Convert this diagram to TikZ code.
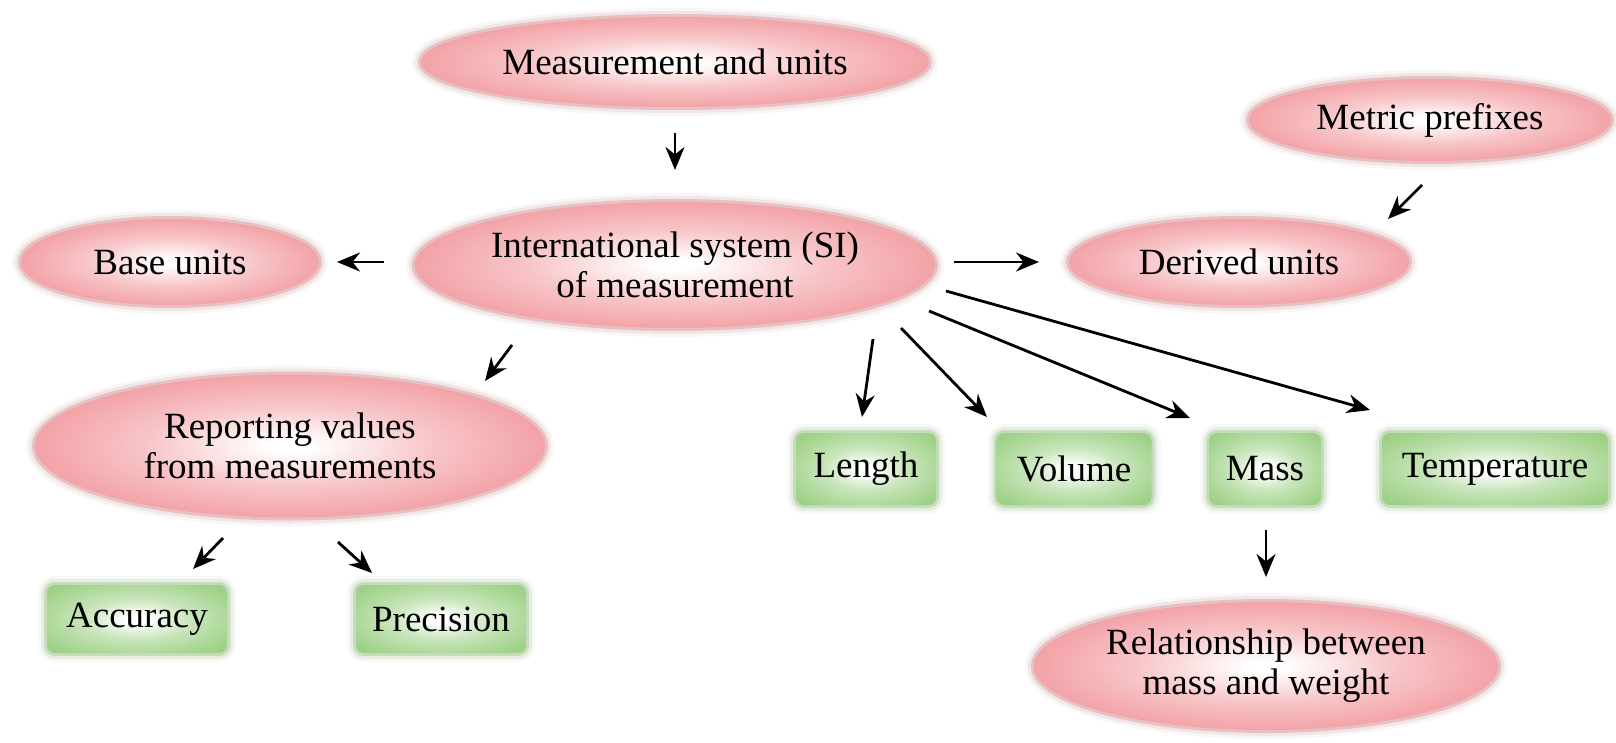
\documentclass[tikz,border=0pt]{standalone}
\usepackage{fontspec}
\setmainfont{Liberation Serif}
\usetikzlibrary{shapes.geometric,arrows.meta}
\definecolor{pinkc}{RGB}{238,128,134}
\definecolor{greenc}{RGB}{145,203,118}
\definecolor{greendk}{RGB}{130,190,100}
\pgfdeclareradialshading{pinkshade}{\pgfpoint{0bp}{0bp}}{color(0bp)=(white); color(2bp)=(white); color(14bp)=(pinkc!45!white); color(30bp)=(pinkc!85!white); color(42bp)=(pinkc); color(75bp)=(pinkc)}
\pgfdeclareradialshading{greenshade}{\pgfpoint{0bp}{0bp}}{color(0bp)=(white); color(3bp)=(white); color(15bp)=(greenc!50!white); color(30bp)=(greenc!85!white); color(40bp)=(greenc); color(75bp)=(greendk)}
\begin{document}
\begin{tikzpicture}[x=1pt,y=-1pt,
  font=\fontsize{37}{40}\selectfont,
  oval/.style={ellipse, inner sep=0pt, align=center, shading=pinkshade,
    preaction={draw=pinkc!50!gray, line width=18pt, draw opacity=0.07},
    preaction={draw=pinkc!60!gray, line width=12pt, draw opacity=0.15},
    preaction={draw=pinkc!75!gray, line width=6pt, draw opacity=0.35}},
  box/.style={rectangle, rounded corners=8pt, inner sep=0pt, align=center, shading=greenshade,
    preaction={draw=greenc!50!gray, line width=18pt, draw opacity=0.07},
    preaction={draw=greenc!60!gray, line width=12pt, draw opacity=0.15},
    preaction={draw=greenc!75!gray, line width=6pt, draw opacity=0.35}},
  arr/.style={-{Stealth[length=23pt,width=19pt]}, line width=2.8pt}]
\useasboundingbox (0,0) rectangle (1616,743);

\node[oval, minimum width=508pt, minimum height=90pt] (mu) at (675,62) {Measurement and units};
\node[oval, minimum width=510pt, minimum height=126pt] (isi) at (675,265) {International system (SI)\\of measurement};
\node[oval, minimum width=298pt, minimum height=86pt] (base) at (170,262) {Base units};
\node[oval, minimum width=340pt, minimum height=86pt] (derived) at (1239,262) {Derived units};
\node[oval, minimum width=362pt, minimum height=82pt] (metric) at (1430,120) {Metric prefixes};
\node[oval, minimum width=510pt, minimum height=143pt] (report) at (290,446) {Reporting values\\from measurements};
\node[oval, minimum width=464pt, minimum height=128pt] (rel) at (1266,666) {Relationship between\\mass and weight};

\node[box, minimum width=140pt, minimum height=72pt] (length) at (866,469) {Length};
\node[box, minimum width=155pt, minimum height=72pt] (volume) at (1074,469) {Volume};
\node[box, minimum width=112pt, minimum height=72pt] (mass) at (1265,469) {Mass};
\node[box, minimum width=226pt, minimum height=72pt] (temp) at (1495,469) {Temperature};
\node[box, minimum width=180pt, minimum height=68pt] (acc) at (137,619) {Accuracy};
\node[box, minimum width=170pt, minimum height=68pt] (prec) at (441,619) {Precision};

\draw[arr] ([shift={(0,71)}]mu.center) -- ([shift={(0,-95)}]isi.center);
\draw[arr] ([shift={(-291,-3)}]isi.center) -- ([shift={(167,0)}]base.center);
\draw[arr] ([shift={(279,-3)}]isi.center) -- ([shift={(-200,0)}]derived.center);
\draw[arr] ([shift={(-8,65)}]metric.center) -- ([shift={(149,-43)}]derived.center);
\draw[arr] ([shift={(-163,80)}]isi.center) -- ([shift={(195,-65)}]report.center);
\draw[arr] ([shift={(198,74)}]isi.center) -- ([shift={(-4,-52)}]length.center);
\draw[arr] ([shift={(226,63)}]isi.center) -- ([shift={(-87,-52)}]volume.center);
\draw[arr] ([shift={(254,46)}]isi.center) -- ([shift={(-75,-51)}]mass.center);
\draw[arr] ([shift={(271,26)}]isi.center) -- ([shift={(-125,-59)}]temp.center);
\draw[arr] ([shift={(-67,92)}]report.center) -- ([shift={(56,-50)}]acc.center);
\draw[arr] ([shift={(48,96)}]report.center) -- ([shift={(-69,-46)}]prec.center);
\draw[arr] ([shift={(1,61)}]mass.center) -- ([shift={(0,-89)}]rel.center);
\end{tikzpicture}
\end{document}
